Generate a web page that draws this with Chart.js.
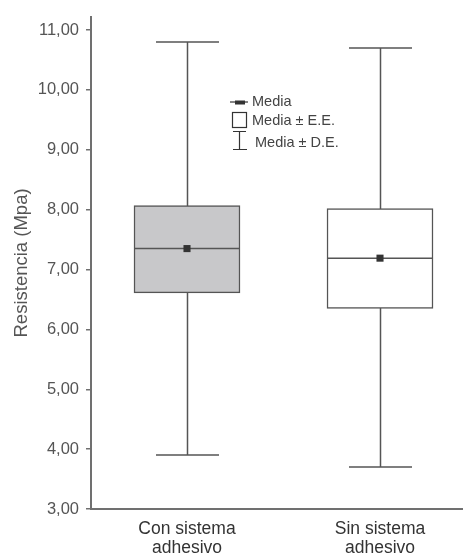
<!DOCTYPE html>
<html>
<head>
<meta charset="utf-8">
<script src="https://cdn.jsdelivr.net/npm/chart.js@4.4.1/dist/chart.umd.min.js"></script>
<style>
  html, body { margin: 0; padding: 0; background: #fff; }
  #wrap { width: 463px; height: 553px; }
</style>
</head>
<body>
<div id="wrap"><canvas id="c"></canvas></div>
<script>
// Data
const categories = [['Con sistema', 'adhesivo'], ['Sin sistema', 'adhesivo']];
const groupPos = [1, 2];
const means = [7.35, 7.19];
const boxLow = [6.61, 6.35];      // Media - E.E.
const boxHigh = [8.07, 8.02];     // Media + E.E.
const whiskerLow = [3.90, 3.70];  // Media - D.E.
const whiskerHigh = [10.80, 10.70]; // Media + D.E.
const yTicks = [3, 4, 5, 6, 7, 8, 9, 10, 11];
const legendLabels = ['Media', 'Media \u00b1 E.E.', 'Media \u00b1 D.E.'];

const FONT = "'Liberation Sans', Arial, sans-serif";
const AXIS_GRAY = '#707070';

// Whiskers behind the boxes, mean line on top of them, legend last
const boxPlugin = {
    id: 'boxParts',
    beforeDatasetsDraw(chart) {
        const { ctx, scales: { x, y } } = chart;
        ctx.save();
        ctx.strokeStyle = '#555';
        ctx.lineWidth = 1.5;
        groupPos.forEach((g, i) => {
            const px = Math.round(x.getPixelForValue(g)) + 0.5;
            const top = y.getPixelForValue(whiskerHigh[i]);
            const bot = y.getPixelForValue(whiskerLow[i]);
            ctx.beginPath();
            ctx.moveTo(px, top);
            ctx.lineTo(px, bot);
            ctx.moveTo(px - 31.5, top);
            ctx.lineTo(px + 31.5, top);
            ctx.moveTo(px - 31.5, bot);
            ctx.lineTo(px + 31.5, bot);
            ctx.stroke();
        });
        ctx.restore();
    },
    afterDatasetDraw(chart, args) {
        if (args.index !== 0) return;
        const { ctx, scales: { x, y } } = chart;
        ctx.save();
        ctx.strokeStyle = '#555';
        ctx.lineWidth = 1.5;
        groupPos.forEach((g, i) => {
            const px = x.getPixelForValue(g);
            const py = y.getPixelForValue(means[i]);
            ctx.beginPath();
            ctx.moveTo(px - 53, py);
            ctx.lineTo(px + 53, py);
            ctx.stroke();
        });
        ctx.restore();
    },
    afterDraw(chart) {
        const ctx = chart.ctx;
        ctx.save();
        ctx.strokeStyle = '#333';
        ctx.fillStyle = '#333';
        ctx.lineWidth = 1.2;
        // Media
        ctx.beginPath();
        ctx.moveTo(230, 102);
        ctx.lineTo(248, 102);
        ctx.stroke();
        ctx.fillRect(235, 100.5, 10, 4);
        // Media ± E.E.
        ctx.strokeRect(232.5, 112.5, 14, 15);
        // Media ± D.E.
        ctx.beginPath();
        ctx.moveTo(239.5, 131.5);
        ctx.lineTo(239.5, 149);
        ctx.moveTo(233, 131.5);
        ctx.lineTo(246, 131.5);
        ctx.moveTo(233, 149.5);
        ctx.lineTo(247, 149.5);
        ctx.stroke();

        ctx.fillStyle = '#444';
        ctx.font = '14.5px ' + FONT;
        ctx.textBaseline = 'middle';
        ctx.fillText(legendLabels[0], 252, 102);
        ctx.fillText(legendLabels[1], 252, 121);
        ctx.fillText(legendLabels[2], 255, 143);
        ctx.restore();
    }
};

new Chart(document.getElementById('c'), {
    data: {
        datasets: [
            {
                type: 'bar',
                data: groupPos.map((g, i) => ({ x: g, y: [boxLow[i], boxHigh[i]] })),
                backgroundColor: ['#c8c8ca', '#ffffff'],
                borderColor: '#555',
                borderWidth: 1.5,
                borderSkipped: false,
                barThickness: 106,
                order: 2
            },
            {
                type: 'scatter',
                data: groupPos.map((g, i) => ({ x: g, y: means[i] })),
                pointStyle: 'rect',
                radius: 5,
                backgroundColor: '#333',
                borderColor: '#333',
                borderWidth: 0,
                order: 1
            }
        ]
    },
    options: {
        responsive: true,
        maintainAspectRatio: false,
        animation: false,
        events: [],
        layout: { autoPadding: false, padding: { top: 14, right: 0, left: 0, bottom: 0 } },
        plugins: {
            legend: { display: false },
            tooltip: { enabled: false }
        },
        scales: {
            x: {
                type: 'linear',
                min: 0.5026,
                max: 2.43,
                offset: false,
                afterBuildTicks: scale => {
                    scale.ticks = groupPos.map(v => ({ value: v }));
                },
                afterFit: scale => { scale.height = 44; },
                grid: { display: false },
                border: { display: true, color: AXIS_GRAY, width: 2 },
                ticks: {
                    color: '#333',
                    font: { size: 17.5, family: FONT, lineHeight: 1.07 },
                    padding: 3,
                    maxRotation: 0,
                    autoSkip: false,
                    callback: value => categories[groupPos.indexOf(value)]
                }
            },
            y: {
                type: 'linear',
                min: 3,
                max: 11.22,
                afterBuildTicks: scale => {
                    scale.ticks = yTicks.map(v => ({ value: v }));
                },
                afterFit: scale => { scale.width = 91; },
                grid: {
                    drawOnChartArea: false,
                    drawTicks: true,
                    tickLength: 5,
                    color: AXIS_GRAY,
                    lineWidth: 1.5
                },
                border: { display: true, color: AXIS_GRAY, width: 2 },
                ticks: {
                    color: '#555',
                    font: { size: 16.5, family: FONT },
                    padding: 7,
                    callback: value => value.toFixed(2).replace('.', ',')
                },
                title: {
                    display: true,
                    text: 'Resistencia (Mpa)',
                    color: '#555',
                    font: { size: 18.5, family: FONT },
                    padding: { top: 11, bottom: 0 }
                }
            }
        }
    },
    plugins: [boxPlugin]
});
</script>
</body>
</html>
